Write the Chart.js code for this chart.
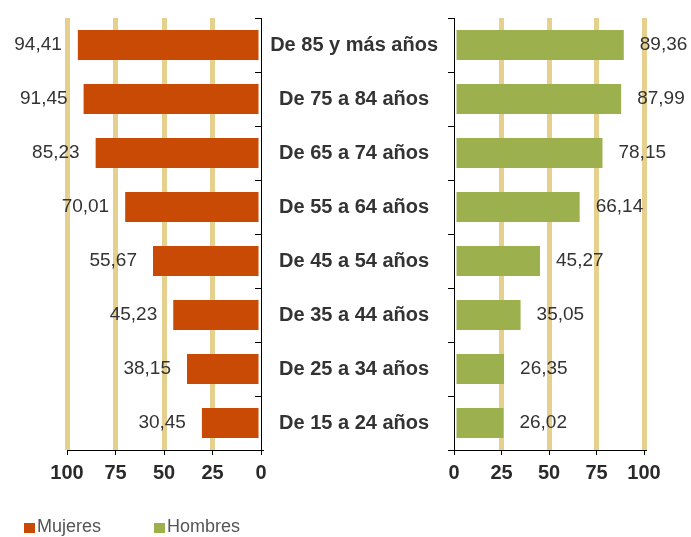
<!DOCTYPE html>
<html><head><meta charset="utf-8">
<script src="https://cdn.jsdelivr.net/npm/chart.js@4.4.1/dist/chart.umd.min.js"></script>
<style>
html,body{margin:0;padding:0;background:#fff;width:691px;height:537px;overflow:hidden;}
#wrap{position:relative;width:691px;height:537px;}
canvas{position:absolute;left:0;top:0;}
.leg{position:absolute;top:516px;font:18px 'Liberation Sans',Arial,sans-serif;color:#555;line-height:20px;white-space:nowrap}
.leg i{display:inline-block;width:11px;height:10px;margin-right:2px;vertical-align:-1px}
</style></head><body>
<div id="wrap">
<canvas id="cL" width="691" height="537"></canvas>
<canvas id="cR" width="691" height="537"></canvas>
<div class="leg" style="left:24px"><i style="background:#C94A05"></i>Mujeres</div>
<div class="leg" style="left:154px"><i style="background:#9CB04D"></i>Hombres</div>
</div>
<script>
const categories = ['De 85 y más años','De 75 a 84 años','De 65 a 74 años','De 55 a 64 años','De 45 a 54 años','De 35 a 44 años','De 25 a 34 años','De 15 a 24 años'];
const mujeres = [94.41, 91.45, 85.23, 70.01, 55.67, 45.23, 38.15, 30.45];
const hombres = [89.36, 87.99, 78.15, 66.14, 45.27, 35.05, 26.35, 26.02];
const xTicks = [0, 25, 50, 75, 100];
const seriesNames = ['Mujeres', 'Hombres'];
const colors = ['#C94A05', '#9CB04D'];

const FONT = "'Liberation Sans', Arial, sans-serif";
const GRID = '#E5D08E';

const valueLabels = {
  id: 'valueLabels',
  afterDatasetsDraw(chart, args, opts) {
    const ctx = chart.ctx;
    const meta = chart.getDatasetMeta(0);
    const data = chart.data.datasets[0].data;
    ctx.save();
    ctx.font = '19px ' + FONT;
    ctx.fillStyle = '#333';
    ctx.textBaseline = 'middle';
    ctx.textAlign = opts.side === 'left' ? 'right' : 'left';
    meta.data.forEach((el, i) => {
      const txt = data[i].toFixed(2).replace('.', ',');
      const x = opts.side === 'left' ? el.x - opts.gap : el.x + opts.gap;
      ctx.fillText(txt, x, el.y);
    });
    ctx.restore();
  }
};

const innerTicks = {
  id: 'innerTicks',
  afterDraw(chart) {
    const ys = chart.scales.y;
    const n = ys.ticks.length;
    const ctx = chart.ctx;
    const r = chart.chartArea.right;
    ctx.save();
    ctx.strokeStyle = '#000';
    ctx.lineWidth = 1;
    for (let i = 0; i <= n; i++) {
      const y = Math.round(ys.top + i * (ys.bottom - ys.top) / n) + 0.5;
      ctx.beginPath(); ctx.moveTo(r - 6, y); ctx.lineTo(r, y); ctx.stroke();
    }
    ctx.restore();
  }
};

function xScale(reverse) {
  return {
    type: 'linear', reverse: reverse, min: 0, max: 100,
    afterBuildTicks(s) { s.ticks = xTicks.map(v => ({ value: v })); },
    afterFit(s) { s.height = 37; },
    grid: {
      color: c => (c.tick && c.tick.value === 0) ? 'rgba(0,0,0,0)' : GRID,
      lineWidth: 5, tickColor: '#000', tickWidth: 1, tickLength: 5, drawOnChartArea: true
    },
    border: { display: true, color: '#000', width: 1 },
    ticks: { font: { family: FONT, size: 20, weight: 'bold' }, color: '#2a2a2a', padding: 6 }
  };
}

new Chart(document.getElementById('cL'), {
  type: 'bar',
  data: { labels: categories, datasets: [{ label: seriesNames[0], data: mujeres, backgroundColor: colors[0], barPercentage: 0.56, categoryPercentage: 1 }] },
  options: {
    indexAxis: 'y', responsive: false, animation: false,
    layout: { padding: { left: 67, right: 430, top: 18, bottom: 50 } },
    plugins: { legend: { display: false }, tooltip: { enabled: false }, valueLabels: { side: 'left', gap: 16 } },
    scales: {
      x: xScale(true),
      y: {
        position: 'right', afterFit(s) { s.width = 0; s.paddingTop = 0; s.paddingBottom = 0; },
        grid: { display: true, drawOnChartArea: false, drawTicks: false },
        ticks: { display: false },
        border: { display: true, color: '#000', width: 1 }
      }
    }
  },
  plugins: [valueLabels, innerTicks]
});

new Chart(document.getElementById('cR'), {
  type: 'bar',
  data: { labels: categories, datasets: [{ label: seriesNames[1], data: hombres, backgroundColor: colors[1], barPercentage: 0.56, categoryPercentage: 1 }] },
  options: {
    indexAxis: 'y', responsive: false, animation: false,
    layout: { padding: { left: 262, right: 47, top: 18, bottom: 50 } },
    plugins: { legend: { display: false }, tooltip: { enabled: false }, valueLabels: { side: 'right', gap: 16 } },
    scales: {
      x: xScale(false),
      y: {
        position: 'left', afterFit(s) { s.width = 192; s.paddingTop = 0; s.paddingBottom = 0; },
        grid: { display: true, drawOnChartArea: false, drawTicks: true, tickLength: 6, color: '#000', tickColor: '#000' },
        border: { display: true, color: '#000', width: 1 },
        ticks: { crossAlign: 'center', padding: 10, font: { family: FONT, size: 20, weight: 'bold' }, color: '#333' }
      }
    }
  },
  plugins: [valueLabels]
});
</script>
</body></html>
